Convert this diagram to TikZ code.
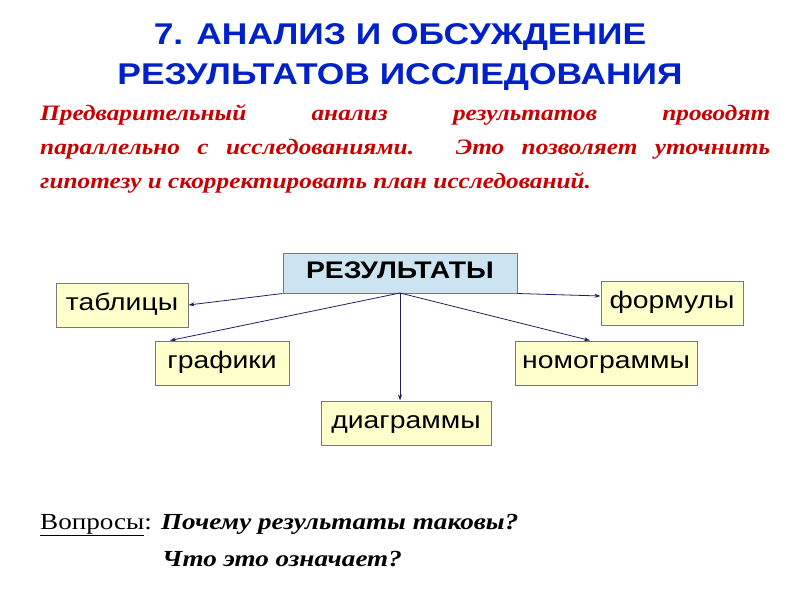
\documentclass[tikz,border=0pt]{standalone}
\usepackage{fontspec}
\setmainfont{Liberation Serif}
\newfontfamily\arialf{Liberation Sans}
\usetikzlibrary{arrows.meta}
\definecolor{ttl}{RGB}{0,32,200}
\definecolor{rd}{RGB}{200,0,0}
\definecolor{byel}{RGB}{255,255,204}
\definecolor{bblue}{RGB}{204,228,242}
\definecolor{bord}{RGB}{120,120,120}
\definecolor{arr}{RGB}{30,30,100}
\newcommand{\wdx}[1]{\scalebox{1.18}[1]{#1}}
\begin{document}
\begin{tikzpicture}[x=1pt,y=-1pt,
  box/.style={draw=bord,line width=1pt,fill=byel,inner sep=0pt,font=\arialf\fontsize{24}{26}\selectfont},
  con/.style={draw=arr,line width=0.8pt,-{Stealth[length=6pt,width=4pt]}}]
\useasboundingbox (0,0) rectangle (800,599);
\node[font=\arialf\bfseries\fontsize{30}{40}\selectfont,text=ttl,align=center] (t) at (400,57) {\wdx{7. АНАЛИЗ И ОБСУЖДЕНИЕ}\\\wdx{РЕЗУЛЬТАТОВ ИССЛЕДОВАНИЯ}};
\node[inner sep=0pt,anchor=north west,text=rd] (p) at (40,104) {\scalebox{1.15}[1]{\parbox{634.8pt}{\bfseries\itshape\fontsize{22}{34}\selectfont Предварительный анализ результатов проводят\linebreak параллельно с исследованиями. Это позволяет уточнить\linebreak гипотезу и скорректировать план исследований.}}};
\node[box,fill=bblue,minimum width=234pt,minimum height=40pt,font=\arialf\bfseries\fontsize{24}{26}\selectfont] (r) at (400,273) {\wdx{\strut РЕЗУЛЬТАТЫ}};
\node[box,minimum width=132pt,minimum height=44pt] (a) at (122,305) {\wdx{\strut таблицы}};
\node[box,minimum width=142pt,minimum height=44pt] (b) at (672,303) {\wdx{\strut формулы}};
\node[box,minimum width=134pt,minimum height=44pt] (c) at (222,363) {\wdx{\strut графики}};
\node[box,minimum width=182pt,minimum height=44pt] (d) at (606,363) {\wdx{\strut номограммы}};
\node[box,minimum width=170pt,minimum height=44pt] (e) at (406,423) {\wdx{\strut диаграммы}};
\coordinate (rc) at (400,293);
\draw[con] (r.south west) -- (a.east);
\draw[con] (r.south east) -- ([yshift=7pt]b.west);
\draw[con] (rc) -- ([xshift=-52pt]c.north);
\draw[con] (rc) -- ([xshift=-16pt]d.north);
\draw[con] (rc) -- ([xshift=-6pt]e.north);
\node[anchor=base west,inner sep=0pt,font=\fontsize{23}{26}\selectfont] (q1) at (40,529) {\wdx{\underline{Вопросы}: \textbf{\textit{Почему результаты таковы?}}}};
\node[anchor=base west,inner sep=0pt,font=\bfseries\itshape\fontsize{23}{26}\selectfont] (q2) at (162,566) {\wdx{Что это означает?}};
\end{tikzpicture}
\end{document}
